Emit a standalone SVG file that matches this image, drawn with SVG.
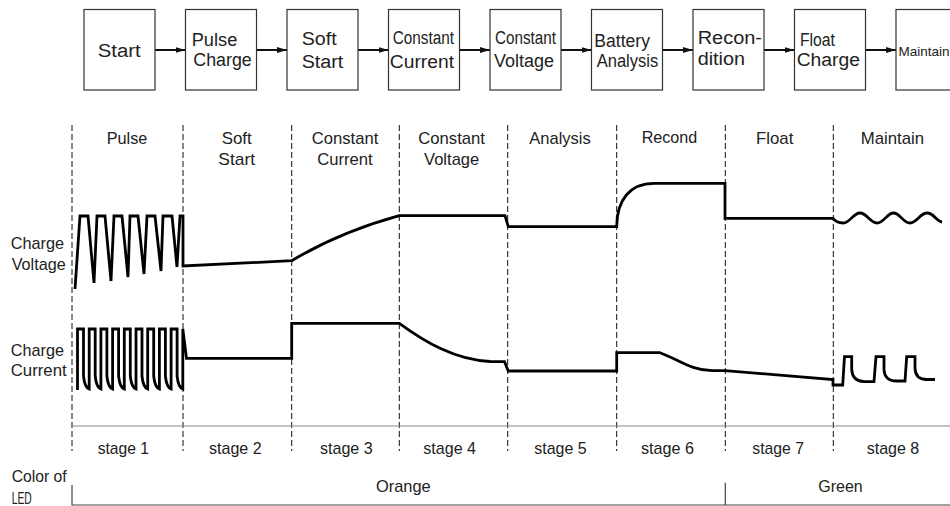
<svg xmlns="http://www.w3.org/2000/svg" width="950" height="506" viewBox="0 0 950 506">
<defs>
<style>
.box{fill:#fff;stroke:#333;stroke-width:1.2}
.bt{font-family:"Liberation Sans",Arial,sans-serif;font-size:18px;fill:#222}
.t{font-family:"Liberation Sans",Arial,sans-serif;font-size:17px;fill:#222}
.arr{stroke:#111;stroke-width:2;fill:none;marker-end:url(#ah)}
.dash{stroke:#111;stroke-width:1;stroke-dasharray:6 3;fill:none}
.wave{stroke:#000;stroke-width:2.8;fill:none;stroke-linejoin:miter;stroke-miterlimit:10}
.grid{stroke:#888;stroke-width:1;fill:none}
.led{stroke:#444;stroke-width:1.2;fill:none}
</style>
<marker id="ah" viewBox="0 0 10 6" refX="10" refY="3" markerWidth="5" markerHeight="3" orient="auto" markerUnits="strokeWidth">
<path d="M0,0 L10,3 L0,6 z" fill="#111"/>
</marker>
</defs>
<rect width="950" height="506" fill="#fff"/>

<g id="connectors">
<line class="arr" x1="155" y1="50" x2="185.5" y2="50"/>
<line class="arr" x1="256.5" y1="50" x2="287" y2="50"/>
<line class="arr" x1="358" y1="50" x2="388.5" y2="50"/>
<line class="arr" x1="459.5" y1="50" x2="490" y2="50"/>
<line class="arr" x1="561" y1="50" x2="591.5" y2="50"/>
<line class="arr" x1="662.5" y1="50" x2="693" y2="50"/>
<line class="arr" x1="764" y1="50" x2="794.5" y2="50"/>
<line class="arr" x1="865.5" y1="50" x2="896" y2="50"/>
</g>

<g id="node-start"><rect class="box" x="84" y="9.5" width="71" height="80.5"/>
<text class="bt" x="97.7" y="56.5" textLength="43" lengthAdjust="spacingAndGlyphs">Start</text></g>
<g id="node-pulse"><rect class="box" x="185.5" y="9.5" width="71" height="80.5"/>
<text class="bt" x="191.7" y="45.7" textLength="45.6" lengthAdjust="spacingAndGlyphs">Pulse</text>
<text class="bt" x="193.3" y="65.7" textLength="58.4" lengthAdjust="spacingAndGlyphs">Charge</text></g>
<g id="node-soft"><rect class="box" x="287" y="9.5" width="71" height="80.5"/>
<text class="bt" x="301.7" y="44.5" textLength="35" lengthAdjust="spacingAndGlyphs">Soft</text>
<text class="bt" x="301.7" y="68" textLength="41.6" lengthAdjust="spacingAndGlyphs">Start</text></g>
<g id="node-cc"><rect class="box" x="388.5" y="9.5" width="71" height="80.5"/>
<text class="bt" x="392.7" y="44" textLength="61.3" lengthAdjust="spacingAndGlyphs">Constant</text>
<text class="bt" x="389.8" y="67.5" textLength="64.2" lengthAdjust="spacingAndGlyphs">Current</text></g>
<g id="node-cv"><rect class="box" x="490" y="9.5" width="71" height="80.5"/>
<text class="bt" x="495" y="44" textLength="61" lengthAdjust="spacingAndGlyphs">Constant</text>
<text class="bt" x="494" y="66.5" textLength="60" lengthAdjust="spacingAndGlyphs">Voltage</text></g>
<g id="node-analysis"><rect class="box" x="591.5" y="9.5" width="71" height="80.5"/>
<text class="bt" x="594.3" y="46.5" textLength="55.7" lengthAdjust="spacingAndGlyphs">Battery</text>
<text class="bt" x="596.7" y="66.5" textLength="61.6" lengthAdjust="spacingAndGlyphs">Analysis</text></g>
<g id="node-recon"><rect class="box" x="693" y="9.5" width="71" height="80.5"/>
<text class="bt" x="697.7" y="44" textLength="64.3" lengthAdjust="spacingAndGlyphs">Recon-</text>
<text class="bt" x="697.7" y="65" textLength="47.3" lengthAdjust="spacingAndGlyphs">dition</text></g>
<g id="node-float"><rect class="box" x="794.5" y="9.5" width="71" height="80.5"/>
<text class="bt" x="800" y="45.7" textLength="35" lengthAdjust="spacingAndGlyphs">Float</text>
<text class="bt" x="796.7" y="66" textLength="63.3" lengthAdjust="spacingAndGlyphs">Charge</text></g>
<g id="node-maintain"><rect class="box" x="896" y="9.5" width="71" height="80.5"/>
<text class="bt" x="898.5" y="55.5" style="font-size:13.5px">Maintain</text></g>

<g id="chart">
<g id="dividers">
<line class="dash" x1="72" y1="125" x2="72" y2="451"/>
<line class="dash" x1="183" y1="125" x2="183" y2="451"/>
<line class="dash" x1="291.7" y1="125" x2="291.7" y2="451"/>
<line class="dash" x1="399.3" y1="125" x2="399.3" y2="451"/>
<line class="dash" x1="507.7" y1="125" x2="507.7" y2="451"/>
<line class="dash" x1="616.7" y1="125" x2="616.7" y2="451"/>
<line class="dash" x1="725.3" y1="125" x2="725.3" y2="451"/>
<line class="dash" x1="833.3" y1="125" x2="833.3" y2="451"/>
</g>
<line class="grid" x1="72" y1="426" x2="950" y2="426"/>
<path class="led" d="M72 485 V505 H950 M725.3 482.7 V505"/>

<g id="headers">
<text class="t" x="106.7" y="144" textLength="40.6" lengthAdjust="spacingAndGlyphs">Pulse</text>
<text class="t" x="221.7" y="144" textLength="30" lengthAdjust="spacingAndGlyphs">Soft</text>
<text class="t" x="218.3" y="165" textLength="36.7" lengthAdjust="spacingAndGlyphs">Start</text>
<text class="t" x="311.7" y="144" textLength="66.6" lengthAdjust="spacingAndGlyphs">Constant</text>
<text class="t" x="317.3" y="165" textLength="55.4" lengthAdjust="spacingAndGlyphs">Current</text>
<text class="t" x="418.3" y="144" textLength="66.7" lengthAdjust="spacingAndGlyphs">Constant</text>
<text class="t" x="424" y="165" textLength="55.3" lengthAdjust="spacingAndGlyphs">Voltage</text>
<text class="t" x="529.3" y="143.5" textLength="61.4" lengthAdjust="spacingAndGlyphs">Analysis</text>
<text class="t" x="641.7" y="143" textLength="55.6" lengthAdjust="spacingAndGlyphs">Recond</text>
<text class="t" x="756" y="144" textLength="37.3" lengthAdjust="spacingAndGlyphs">Float</text>
<text class="t" x="860.7" y="144" textLength="63.3" lengthAdjust="spacingAndGlyphs">Maintain</text>
</g>

<g id="side-labels">
<text class="t" x="10.7" y="249.3" textLength="53.3" lengthAdjust="spacingAndGlyphs">Charge</text>
<text class="t" x="11.7" y="270" textLength="54" lengthAdjust="spacingAndGlyphs">Voltage</text>
<text class="t" x="10.7" y="355.7" textLength="53.3" lengthAdjust="spacingAndGlyphs">Charge</text>
<text class="t" x="10.7" y="376" textLength="56" lengthAdjust="spacingAndGlyphs">Current</text>
<text class="t" x="11.7" y="481.7" textLength="55" lengthAdjust="spacingAndGlyphs">Color of</text>
<text class="t" x="11.7" y="503.5" textLength="20" lengthAdjust="spacingAndGlyphs">LED</text>
</g>

<g id="stages">
<text class="t" x="97.7" y="454.3" textLength="51.3" lengthAdjust="spacingAndGlyphs">stage 1</text>
<text class="t" x="209" y="454.3" textLength="52.7" lengthAdjust="spacingAndGlyphs">stage 2</text>
<text class="t" x="320" y="454.3" textLength="52.7" lengthAdjust="spacingAndGlyphs">stage 3</text>
<text class="t" x="423.3" y="454.3" textLength="52.7" lengthAdjust="spacingAndGlyphs">stage 4</text>
<text class="t" x="534.3" y="454.3" textLength="52.4" lengthAdjust="spacingAndGlyphs">stage 5</text>
<text class="t" x="641" y="454.3" textLength="53" lengthAdjust="spacingAndGlyphs">stage 6</text>
<text class="t" x="752.3" y="454.3" textLength="51.7" lengthAdjust="spacingAndGlyphs">stage 7</text>
<text class="t" x="866.7" y="454.3" textLength="52.6" lengthAdjust="spacingAndGlyphs">stage 8</text>
<text class="t" x="376" y="491.7" textLength="54.7" lengthAdjust="spacingAndGlyphs">Orange</text>
<text class="t" x="818.3" y="491.7" textLength="44.4" lengthAdjust="spacingAndGlyphs">Green</text>
</g>

<path id="voltage" class="wave" d="M75 289 L80 216 H88 L94 283 L97 216 H105 L111 281 L114 216 H122 L128 277 L130 216 H138 L144 274 L147 216 H155 L161 271 L163 216 H172 L177 267 L180 216 H183 V266 L291.7 260.7 Q340 232 399.3 215.7 H505 L508.3 226.7 H616.7 C616.7 200 630 183.3 654 183.3 H725 V218.3 H833 Q836 223 843.5 223 C850 223 853 213 860 213 C867 213 870 223 877 223 C884 223 887 213 893.5 213 C900 213 903 223 910 223 C917 223 920 213 927 213 C934 213 936 221 942 222"/>

<path id="current" class="wave" d="M77.5 390 V329 H83.5 V376 Q84.5 387 89.2 389 V329 H95.2 V376 Q96.2 387 100.9 389 V329 H106.9 V376 Q107.9 387 112.6 389 V329 H118.6 V376 Q119.6 387 124.3 389 V329 H130.3 V376 Q131.3 387 136 389 V329 H142 V376 Q143 387 147.7 389 V329 H153.7 V376 Q154.7 387 159.4 389 V329 H165.4 V376 Q166.4 387 171.1 389 V329 H177.1 V376 Q178.1 387 182.8 389 V329 L186.5 358.3 H291.7 V323.3 H399.3 C425 342 455 360 490 361.5 L504.5 361.7 L508.3 371 H616.7 V352.7 H660 C680 360 690 370 712 370.7 H725 L833 379.5 V385 H842.7 L844.5 356.7 H851.7 V369 Q852 381 864 381.7 H874 L876 356.7 H884 V369 Q884.3 381 896.7 381 H905 L906.7 356.7 H915 V368 Q915.3 379.5 926.7 379.5 H935"/>
</g>
</svg>
